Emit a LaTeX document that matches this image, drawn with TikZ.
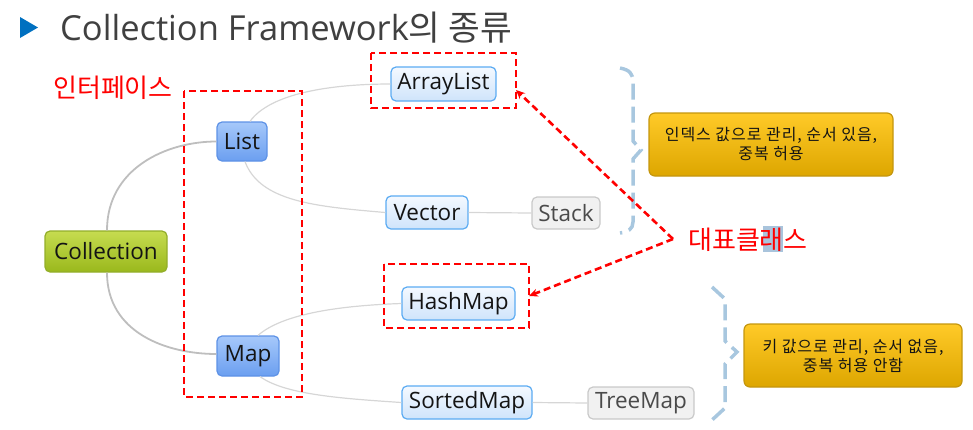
\documentclass[tikz,border=0pt]{standalone}
\usepackage{fontspec}
\setmainfont{Open Sans}
\newfontfamily\kr{Noto Sans CJK KR}
\newfontfamily\krsp[LetterSpace=6]{Noto Sans CJK KR}
\usetikzlibrary{arrows.meta,calc}
\definecolor{grT}{HTML}{C6DC50}
\definecolor{grB}{HTML}{9AB81C}
\definecolor{grD}{HTML}{93AE2A}
\definecolor{blT}{HTML}{A6C8FA}
\definecolor{blB}{HTML}{6B9FF0}
\definecolor{blD}{HTML}{5E92E6}
\definecolor{lbT}{HTML}{F4F9FF}
\definecolor{lbB}{HTML}{CFE4FB}
\definecolor{lbD}{HTML}{5BABF2}
\definecolor{gyF}{HTML}{F1F1F1}
\definecolor{gyD}{HTML}{C9C9C9}
\definecolor{gyTx}{HTML}{4A4A4A}
\definecolor{ywT}{HTML}{FFCA28}
\definecolor{ywB}{HTML}{DDA600}
\definecolor{ywD}{HTML}{C4960E}
\definecolor{txt}{HTML}{141414}
\definecolor{ttl}{HTML}{404040}
\definecolor{tri}{HTML}{0070C0}
\definecolor{cgray}{HTML}{BEBEBE}
\definecolor{lgray}{HTML}{D6D6D6}
\definecolor{bcol}{HTML}{A8C7DF}
\definecolor{hil}{HTML}{A9C4DC}
\begin{document}
\begin{tikzpicture}[x=1pt,y=-1pt,
  box/.style={rounded corners=5pt, inner sep=0pt, line width=1.2pt, text=txt,
    font=\fontsize{22.5}{22.5}\selectfont},
  greenbox/.style={box, top color=grT, bottom color=grB, draw=grD},
  bluebox/.style={box, top color=blT, bottom color=blB, draw=blD},
  lightbox/.style={box, top color=lbT, bottom color=lbB, draw=lbD},
  graybox/.style={box, fill=gyF, draw=gyD, text=gyTx},
  notebox/.style={rounded corners=6pt, inner sep=0pt, line width=1.2pt,
    top color=ywT, bottom color=ywB, draw=ywD, text=txt, align=center,
    font=\krsp\fontsize{16}{19}\selectfont},
  con/.style={draw=cgray, line width=1.8pt},
  con2/.style={draw=lgray, line width=1.2pt},
  reddash/.style={draw=red, line width=2.6pt, dash pattern=on 7pt off 4pt},
  redarrow/.style={reddash, -{Stealth[length=9pt,width=8pt]}},
  bracepath/.style={draw=bcol, line width=3.5pt, dash pattern=on 16pt off 7pt},
  redtext/.style={text=red, font=\kr\fontsize{26}{26}\selectfont, inner sep=0pt}
]
\useasboundingbox (0,0) rectangle (973,429);

% title
\fill[tri] (20,17) -- (20,38) -- (38,27.5) -- cycle;
\node[anchor=base west, inner sep=0pt, text=ttl, font=\fontsize{34.5}{34.5}\selectfont] (title) at (60,40)
  {Collection Framework{\kr 의 종류}};

% nodes
\node[greenbox, minimum width=122pt, minimum height=41pt] (coll) at (106,251.5) {Collection};
\node[bluebox, minimum width=50pt, minimum height=39pt] (list) at (242,141.5) {List};
\node[bluebox, minimum width=62pt, minimum height=40pt] (map) at (248,356) {Map};
\node[lightbox, minimum width=105pt, minimum height=34pt] (alist) at (443.5,84) {ArrayList};
\node[lightbox, minimum width=82pt, minimum height=33pt] (vec) at (427,212.5) {Vector};
\node[graybox, minimum width=68pt, minimum height=32pt] (stack) at (566,213) {Stack};
\node[lightbox, minimum width=113pt, minimum height=33pt] (hmap) at (458.5,303.5) {HashMap};
\node[lightbox, minimum width=130pt, minimum height=33pt] (smap) at (467,402.5) {SortedMap};
\node[graybox, minimum width=106pt, minimum height=32pt] (tmap) at (641,403) {TreeMap};

\node[notebox, minimum width=244pt, minimum height=63pt] (note1) at (771,144.5)
  {인덱스 값으로 관리, 순서 있음,\\중복 허용};
\node[notebox, minimum width=218pt, minimum height=63pt] (note2) at (853,355.5)
  {키 값으로 관리, 순서 없음,\\중복 허용 안함};

% connectors
\draw[con] ($(coll.north)+(1,0)$) .. controls +(0,-62) and +(-50,0) .. (list.west);
\draw[con] ($(coll.south)+(1,0)$) .. controls +(0,60) and +(-50,0) .. ($(map.west)+(0,-2)$);
\draw[con2] ($(list.north)+(8,0)$) .. controls +(20,-28) and +(-60,0) .. (alist.west);
\draw[con2] ($(list.south)+(3,0)$) .. controls +(15,40) and +(-70,-6) .. (vec.west);
\draw[con2] ($(map.north)+(10,0)$) .. controls +(25,-22) and +(-60,2) .. (hmap.west);
\draw[con2] ($(map.south)+(12,0)$) .. controls +(25,18) and +(-60,-4) .. (smap.west);
\draw[con2] (vec.east) -- (stack.west);
\draw[con2] (smap.east) -- (tmap.west);

% braces
\draw[bracepath] (620,68) .. controls (630,70) and (633,74) .. (633,82) -- (633,141) -- (641,150) -- (633,159) -- (633,222) .. controls (633,229) and (628,232) .. (620,233);
\draw[bracepath] (712,287) -- (725,299) -- (725,341) -- (737,352) -- (725,364) -- (725,408) -- (712,420);

% dashed boxes
\draw[reddash] (184,91) rectangle (302,397);
\draw[reddash] (371,53) rectangle (516,108);
\draw[reddash] (384,264) rectangle (529,328);

% labels
\node[redtext] (iface) at (113,88) {인터페이스};
\fill[hil] (763,226) rectangle (783,252);
\node[redtext] (rep) at (748,240) {대표클래스};
\coordinate (vtx) at (673,239);
\coordinate (a1) at (516,90);
\coordinate (a2) at (529,296);
\draw[redarrow] (vtx) -- (a1);
\draw[redarrow] (vtx) -- (a2);
\end{tikzpicture}
\end{document}
